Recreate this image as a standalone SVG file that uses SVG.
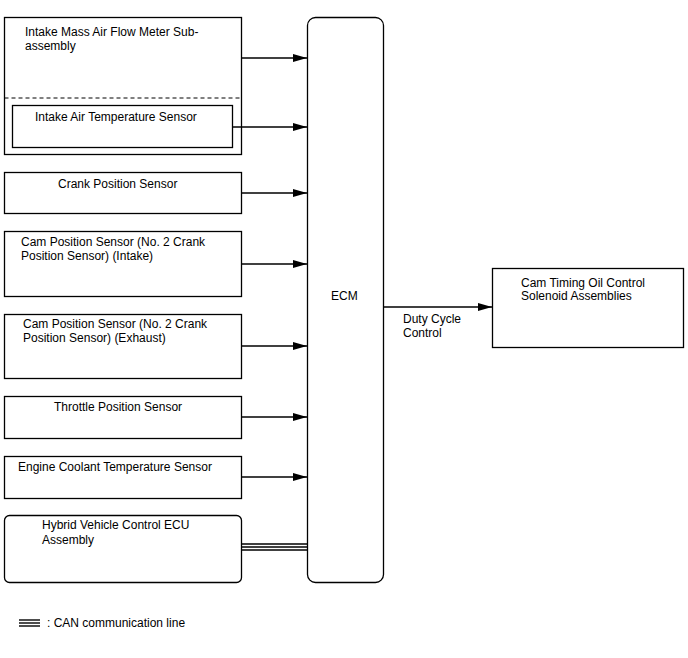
<svg xmlns="http://www.w3.org/2000/svg" width="688" height="658" viewBox="0 0 688 658">
<defs>
<marker id="arr" markerWidth="14" markerHeight="8" refX="14" refY="4" orient="auto" markerUnits="userSpaceOnUse">
<path d="M0,0 L14,4 L0,8 Z" fill="#000"/>
</marker>
<style>
.box{fill:#fff;stroke:#000;stroke-width:1.3}
.t{font-family:"Liberation Sans",Arial,sans-serif;font-size:12px;fill:#000}
.ln{stroke:#000;stroke-width:1.4;fill:none}
</style>
</defs>
<rect width="688" height="658" fill="#fff"/>
<g id="maf">
<rect class="box" x="4.5" y="17.5" width="237" height="137"/>
<line x1="4.5" y1="98" x2="241.5" y2="98" stroke="#000" stroke-width="1" stroke-dasharray="4,3"/>
<text class="t" x="25" y="36">Intake Mass Air Flow Meter Sub-</text>
<text class="t" x="25" y="50">assembly</text>
</g>
<g id="iat">
<rect class="box" x="12.5" y="105.5" width="220" height="42"/>
<text class="t" x="35" y="121">Intake Air Temperature Sensor</text>
</g>
<g id="crank">
<rect class="box" x="4.5" y="172.5" width="237" height="41"/>
<text class="t" x="58" y="188">Crank Position Sensor</text>
</g>
<g id="camIntake">
<rect class="box" x="4.5" y="231.5" width="237" height="65"/>
<text class="t" x="21" y="246">Cam Position Sensor (No. 2 Crank</text>
<text class="t" x="21" y="260">Position Sensor) (Intake)</text>
</g>
<g id="camExhaust">
<rect class="box" x="4.5" y="314.5" width="237" height="64"/>
<text class="t" x="23" y="328">Cam Position Sensor (No. 2 Crank</text>
<text class="t" x="23" y="342">Position Sensor) (Exhaust)</text>
</g>
<g id="throttle">
<rect class="box" x="4.5" y="396.5" width="237" height="42"/>
<text class="t" x="54" y="411">Throttle Position Sensor</text>
</g>
<g id="ect">
<rect class="box" x="4.5" y="456.5" width="237" height="42"/>
<text class="t" x="18" y="471">Engine Coolant Temperature Sensor</text>
</g>
<g id="hv">
<rect class="box" x="4.5" y="515.5" width="237" height="67" rx="5"/>
<text class="t" x="42" y="529">Hybrid Vehicle Control ECU</text>
<text class="t" x="42" y="544">Assembly</text>
</g>
<g id="ecm">
<rect class="box" x="307.5" y="17.5" width="76" height="565" rx="8"/>
<text class="t" x="331" y="300">ECM</text>
</g>
<g id="ocv">
<rect class="box" x="492.5" y="268.5" width="191" height="79"/>
<text class="t" x="521" y="287">Cam Timing Oil Control</text>
<text class="t" x="521" y="300">Solenoid Assemblies</text>
</g>
<g id="connectors">
<line class="ln" x1="241.5" y1="58" x2="307" y2="58" marker-end="url(#arr)"/>
<line class="ln" x1="232.5" y1="127" x2="307" y2="127" marker-end="url(#arr)"/>
<line class="ln" x1="241.5" y1="193" x2="307" y2="193" marker-end="url(#arr)"/>
<line class="ln" x1="241.5" y1="264" x2="307" y2="264" marker-end="url(#arr)"/>
<line class="ln" x1="241.5" y1="346" x2="307" y2="346" marker-end="url(#arr)"/>
<line class="ln" x1="241.5" y1="417" x2="307" y2="417" marker-end="url(#arr)"/>
<line class="ln" x1="241.5" y1="477" x2="307" y2="477" marker-end="url(#arr)"/>
<line class="ln" x1="241.5" y1="544" x2="307.5" y2="544"/>
<line class="ln" x1="241.5" y1="547" x2="307.5" y2="547"/>
<line class="ln" x1="241.5" y1="550" x2="307.5" y2="550"/>
<line class="ln" x1="383.5" y1="307" x2="492" y2="307" marker-end="url(#arr)"/>
<text class="t" x="403" y="323">Duty Cycle</text>
<text class="t" x="403" y="337">Control</text>
</g>
<g id="legend">
<line class="ln" x1="19" y1="620" x2="40" y2="620"/>
<line class="ln" x1="19" y1="623" x2="40" y2="623"/>
<line class="ln" x1="19" y1="626" x2="40" y2="626"/>
<text class="t" x="47" y="627">: CAN communication line</text>
</g>
</svg>
